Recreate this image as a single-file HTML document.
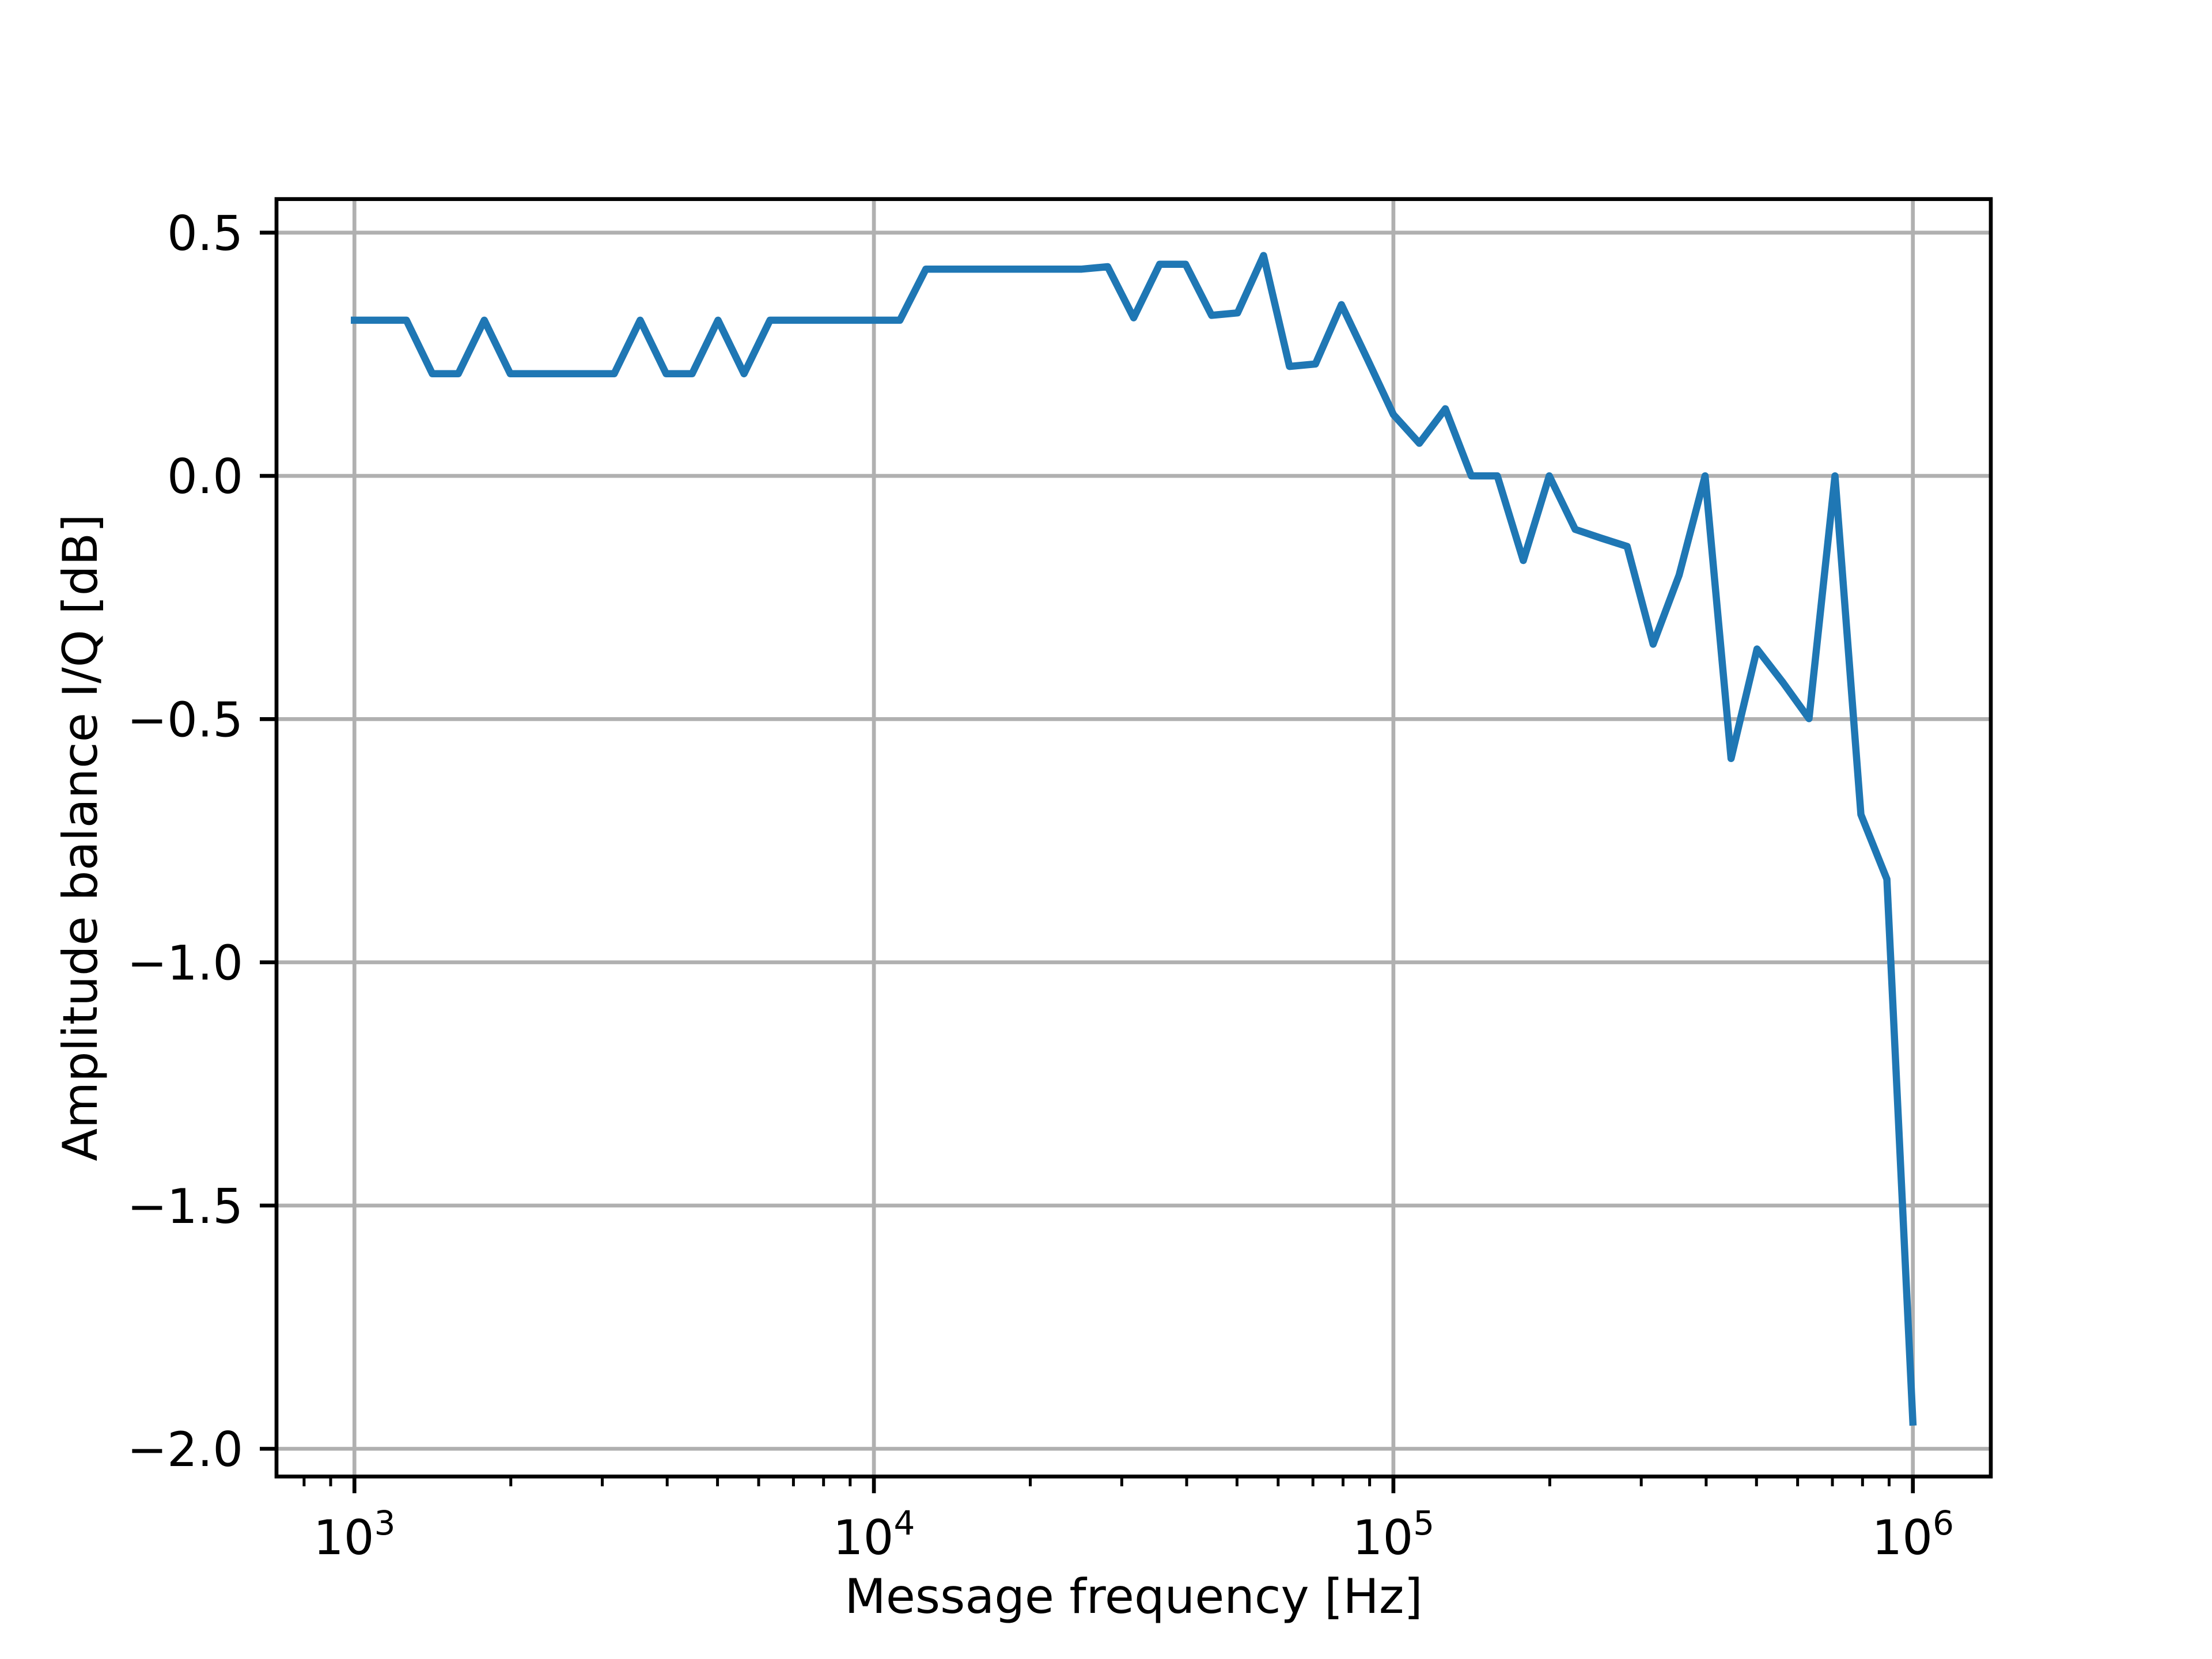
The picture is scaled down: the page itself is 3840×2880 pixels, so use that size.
<!DOCTYPE html>
<html><head><meta charset="utf-8">
<style>html,body{margin:0;padding:0;background:#fff}svg{display:block}</style>
</head><body>
<svg id="chart" width="3840" height="2880" viewBox="0 0 3840 2880" xmlns="http://www.w3.org/2000/svg" font-family="'DejaVu Sans','Liberation Sans',sans-serif">
<rect width="3840" height="2880" fill="#fff"/>
<g id="grid"></g>
<g id="series"></g>
<g id="axes"></g>
<text x="1968" y="2800" font-size="83" text-anchor="middle">Message frequency [Hz]</text>
<text transform="translate(168,1454) rotate(-90)" font-size="83" text-anchor="middle">Amplitude balance I/Q [dB]</text>
</svg>
<script>
const xExponents = [3, 4, 5, 6];
const yTicks = [0.5, 0.0, -0.5, -1.0, -1.5, -2.0];
const yTickLabels = ["0.5", "0.0", "\u22120.5", "\u22121.0", "\u22121.5", "\u22122.0"];
const logFreqStart = 3;
const logFreqStep = 0.05;
const balanceDb = [
 0.32,0.32,0.32,0.21,0.21,0.32,0.21,0.21,0.21,0.21,
 0.21,0.32,0.21,0.21,0.32,0.21,0.32,0.32,0.32,0.32,
 0.32,0.32,0.425,0.425,0.425,0.425,0.425,0.425,0.425,0.43,
 0.325,0.435,0.435,0.33,0.335,0.453,0.225,0.23,0.352,0.24,
 0.126,0.067,0.138,0.0,0.0,-0.174,0.0,-0.110,-0.128,-0.145,
 -0.346,-0.204,0.0,-0.581,-0.356,-0.425,-0.499,0.0,-0.696,-0.829,
 -1.945
];
const frequencies = balanceDb.map((_, i) => Math.pow(10, logFreqStart + i * logFreqStep));

const L = 480, R = 3456, T = 345.6, B = 2563.2;
const xMin = 2.85, xMax = 6.15, yMin = -2.057, yMax = 0.569;
const NS = "http://www.w3.org/2000/svg";
function sx(f) { return L + (Math.log10(f) - xMin) / (xMax - xMin) * (R - L); }
function sy(v) { return B - (v - yMin) / (yMax - yMin) * (B - T); }
function mk(tag, attrs, parent) {
  const e = document.createElementNS(NS, tag);
  for (const k in attrs) e.setAttribute(k, attrs[k]);
  parent.appendChild(e);
  return e;
}
const grid = document.getElementById('grid');
const axes = document.getElementById('axes');
const series = document.getElementById('series');

xExponents.forEach(p => {
  const x = sx(Math.pow(10, p));
  const g = mk('line', {x1: x, x2: x, y1: T, y2: B, stroke: '#b0b0b0', 'stroke-width': 6.7}, grid);
  
  
  const t = mk('line', {x1: x, x2: x, y1: B, y2: B + 29, stroke: '#000', 'stroke-width': 6.7}, axes);
  
  
  const lbl = mk('text', {x: x, y: B + 135, 'font-size': 83, 'text-anchor': 'middle'}, axes);
  
  
  const base = document.createElementNS(NS, 'tspan'); base.textContent = '10'; lbl.appendChild(base);
  const sup = document.createElementNS(NS, 'tspan');
  sup.setAttribute('dy', -34); sup.setAttribute('font-size', 58); sup.textContent = String(p);
  lbl.appendChild(sup);
});
for (let p = 2; p <= 6; p++) {
  for (let m = 2; m <= 9; m++) {
    const lf = Math.log10(m) + p;
    if (lf < xMin || lf > xMax) continue;
    const x = sx(Math.pow(10, lf));
    const t = mk('line', {x1: x, x2: x, y1: B, y2: B + 17, stroke: '#000', 'stroke-width': 5}, axes);
    
    
  }
}
yTicks.forEach((v, i) => {
  const y = sy(v);
  const g = mk('line', {x1: L, x2: R, y1: y, y2: y, stroke: '#b0b0b0', 'stroke-width': 6.7}, grid);
  
  
  const t = mk('line', {x1: L - 29, x2: L, y1: y, y2: y, stroke: '#000', 'stroke-width': 6.7}, axes);
  
  
  const lbl = mk('text', {x: L - 58, y: y + 30, 'font-size': 83, 'text-anchor': 'end'}, axes);
  
  
  lbl.textContent = yTickLabels[i];
});
const frame = mk('rect', {x: L, y: T, width: R - L, height: B - T, fill: 'none', stroke: '#000', 'stroke-width': 6.7}, axes);



const pts = balanceDb.map((v, i) => sx(frequencies[i]).toFixed(1) + ',' + sy(v).toFixed(1)).join(' ');
const line = mk('polyline', {points: pts, fill: 'none', stroke: '#1f77b4', 'stroke-width': 12.5, 'stroke-linejoin': 'round', 'stroke-linecap': 'square'}, series);


</script>
</body></html>
